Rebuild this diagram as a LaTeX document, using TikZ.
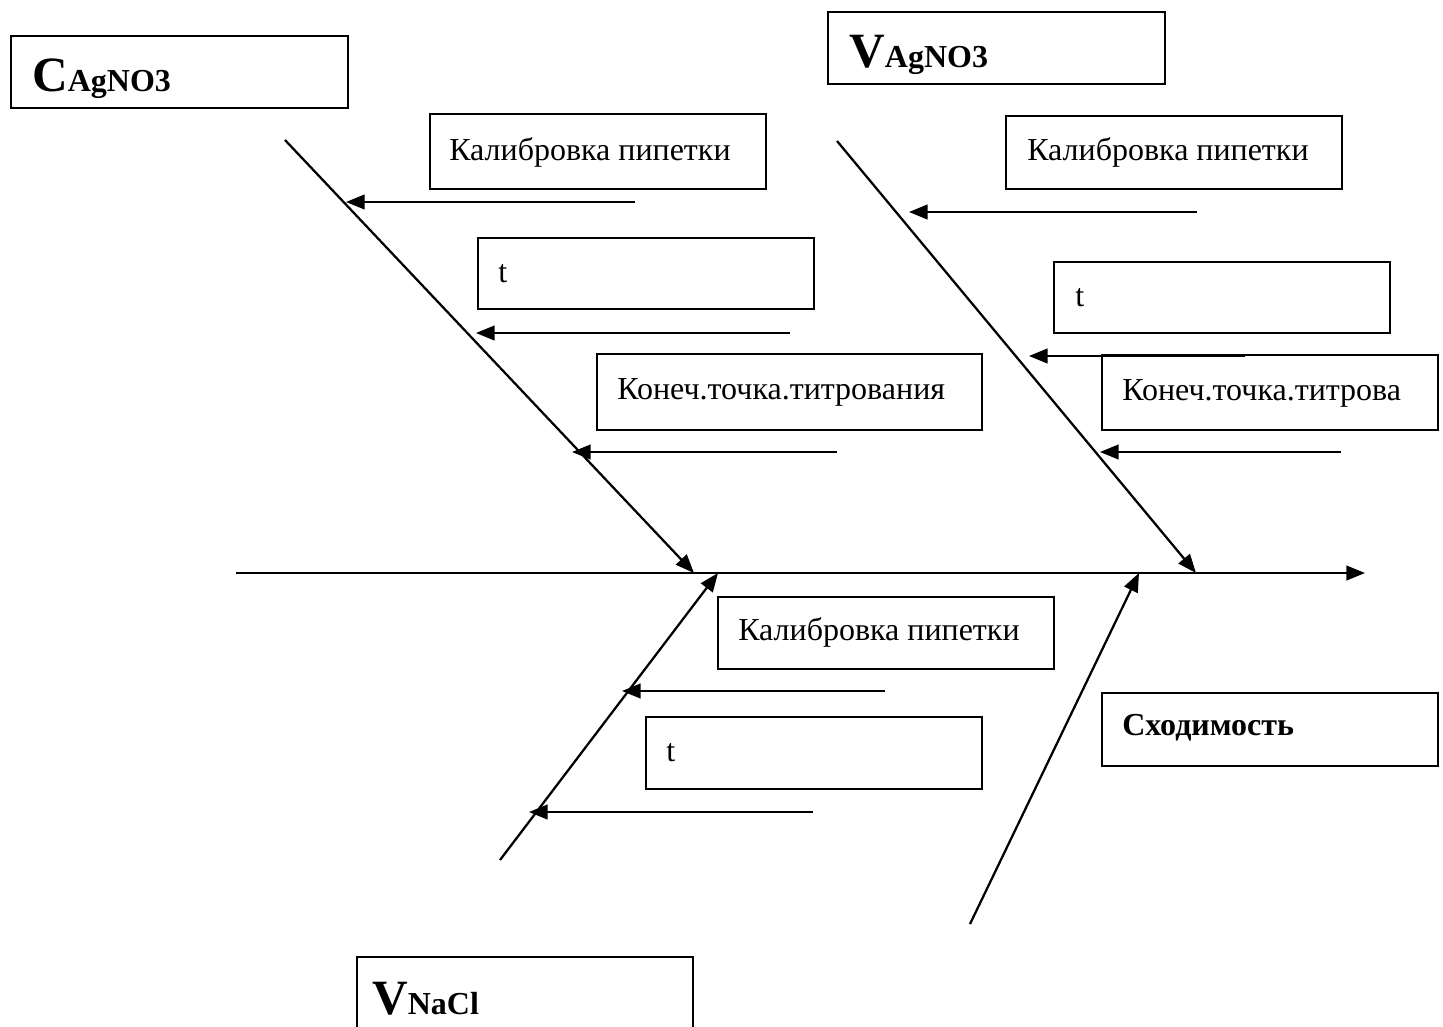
\documentclass[tikz,border=0pt]{standalone}
\usepackage{fontspec}
\setmainfont{Liberation Serif}
\usetikzlibrary{arrows.meta}
\begin{document}
\begin{tikzpicture}[x=0.75pt,y=-0.75pt,
  box/.style={draw,line width=1.5pt,inner sep=0pt},
  lbl/.style={anchor=base west,inner sep=0pt,font=\fontsize{24pt}{27pt}\selectfont},
  arr/.style={line width=1.7pt,-{Triangle[length=14pt,width=11pt]}}]
\useasboundingbox (0,0) rectangle (1443,1026);
% boxes
\node[box,minimum width=337*0.75pt,minimum height=72*0.75pt,anchor=north west] (bC) at (10,35) {};
\node[box,minimum width=337*0.75pt,minimum height=72*0.75pt,anchor=north west] (bV) at (827,11) {};
\node[box,minimum width=336*0.75pt,minimum height=75*0.75pt,anchor=north west] (k1) at (429,113) {};
\node[box,minimum width=336*0.75pt,minimum height=71*0.75pt,anchor=north west] (t1) at (477,237) {};
\node[box,minimum width=385*0.75pt,minimum height=76*0.75pt,anchor=north west] (e1) at (596,353) {};
\node[box,minimum width=336*0.75pt,minimum height=73*0.75pt,anchor=north west] (k2) at (1005,115) {};
\node[box,minimum width=336*0.75pt,minimum height=71*0.75pt,anchor=north west] (t2) at (1053,261) {};
\node[box,minimum width=336*0.75pt,minimum height=75*0.75pt,anchor=north west] (e2) at (1101,354) {};
\node[box,minimum width=336*0.75pt,minimum height=72*0.75pt,anchor=north west] (k3) at (717,596) {};
\node[box,minimum width=336*0.75pt,minimum height=72*0.75pt,anchor=north west] (t3) at (645,716) {};
\node[box,minimum width=336*0.75pt,minimum height=73*0.75pt,anchor=north west] (sx) at (1101,692) {};
\draw[line width=1.5pt] (357,1030) |- (693,957) -- (693,1030);
\coordinate (bN) at (357,957);
% texts
\node[anchor=base west,inner sep=0pt] (tC) at (32,91) {\fontsize{37pt}{40pt}\selectfont\bfseries C\fontsize{24pt}{28pt}\selectfont AgNO3};
\node[anchor=base west,inner sep=0pt] (tV) at (849,67) {\fontsize{37pt}{40pt}\selectfont\bfseries V\fontsize{24pt}{28pt}\selectfont AgNO3};
\node[anchor=base west,inner sep=0pt] (tN) at (372,1014) {\fontsize{37pt}{40pt}\selectfont\bfseries V\fontsize{24pt}{28pt}\selectfont NaCl};
\node[lbl] (lk1) at (449,160) {Калибровка пипетки};
\node[lbl] (lt1) at (498,282) {t};
\node[lbl] (le1) at (617,399) {Конеч.точка.титрования};
\node[lbl] (lk2) at (1027,160) {Калибровка пипетки};
\node[lbl] (lt2) at (1075,306) {t};
\node[lbl] (le2) at (1122,400) {Конеч.точка.титрова};
\node[lbl] (lk3) at (738,640) {Калибровка пипетки};
\node[lbl] (lt3) at (666,761) {t};
\node[lbl,font=\fontsize{24pt}{27pt}\selectfont\bfseries] (lsx) at (1122,735) {Сходимость};
% spine
\coordinate (s0) at (236,573);
\coordinate (s1) at (1365,573);
\draw[arr] (s0) -- (s1);
% bones
\coordinate (a0) at (285,140); \coordinate (a1) at (694,573);
\coordinate (b0) at (837,141); \coordinate (b1) at (1196,573);
\coordinate (c0) at (500,860); \coordinate (c1) at (718,573);
\coordinate (d0) at (970,924); \coordinate (d1) at (1139,573);
\draw[arr] (a0) -- (a1);
\draw[arr] (b0) -- (b1);
\draw[arr] (c0) -- (c1);
\draw[arr] (d0) -- (d1);
% sub-arrows
\coordinate (h1s) at (635,202); \coordinate (h1e) at (346,202);
\coordinate (h2s) at (790,333); \coordinate (h2e) at (476,333);
\coordinate (h3s) at (837,452); \coordinate (h3e) at (572,452);
\coordinate (h4s) at (1197,212); \coordinate (h4e) at (909,212);
\coordinate (h5s) at (1245,356); \coordinate (h5e) at (1029,356);
\coordinate (h6s) at (1341,452); \coordinate (h6e) at (1100,452);
\coordinate (h7s) at (885,691); \coordinate (h7e) at (622,691);
\coordinate (h8s) at (813,812); \coordinate (h8e) at (529,812);
\foreach \i in {1,...,8} {\draw[arr] (h\i s) -- (h\i e);}
\end{tikzpicture}
\end{document}
